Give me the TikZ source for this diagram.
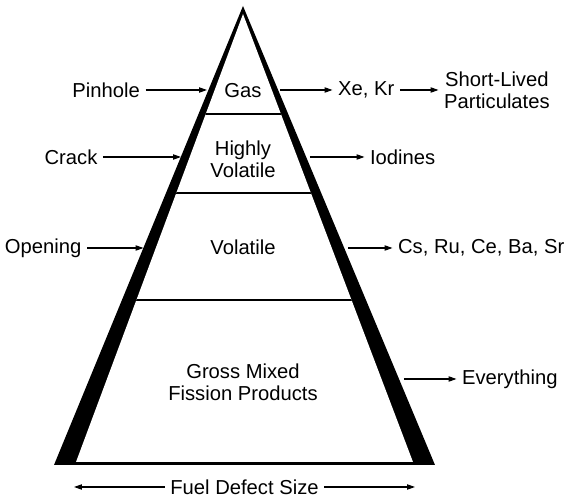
\documentclass[tikz,border=0pt]{standalone}
\usepackage{fontspec}
\setmainfont{Liberation Sans}
\usetikzlibrary{arrows.meta}
\begin{document}
\begin{tikzpicture}[
	lbl/.style={inner sep=3pt, font=\fontsize{11.5}{12.5}\selectfont, align=center},
	arr/.style={line width=0.6pt, -{Triangle[length=4.5pt, width=3pt]}},
	layer/.style={line width=1.7pt}
]
	\useasboundingbox (0, 0) rectangle (11.36, 9.92);
	% pyramid: black outer triangle, white inside, the base is what is left at the bottom
	\fill (4.86, 9.80) -- (1.08, 0.62) -- (8.70, 0.62) -- cycle;
	\fill[white] (4.86, 9.64) -- (1.52, 0.68) -- (8.26, 0.68) -- cycle;
	\begin{scope}
		\clip (4.86, 9.64) -- (1.52, 0.68) -- (8.26, 0.68) -- cycle;
		\draw[layer] (1, 7.64) -- (9, 7.64);
		\draw[layer] (1, 6.06) -- (9, 6.06);
		\draw[line width=1.1pt] (1, 3.92) -- (9, 3.92);
	\end{scope}
	\node[lbl] (gas) at (4.86, 8.10) {Gas};
	\node[lbl] (hivol) at (4.86, 6.74) {Highly\\Volatile};
	\node[lbl] (vol) at (4.86, 4.98) {Volatile};
	\node[lbl] (gross) at (4.86, 2.28) {Gross Mixed\\Fission Products};
	% defects on the left
	\node[lbl, anchor=east] (pinhole) at (2.91, 8.12) {Pinhole};
	\node[lbl, anchor=east] (crack) at (2.06, 6.78) {Crack};
	\node[lbl, anchor=east] (opening) at (1.74, 4.96) {Opening};
	\coordinate (pinholeend) at (4.14, 8.12);
	\coordinate (crackend) at (3.62, 6.78);
	\coordinate (openingend) at (2.87, 4.96);
	\draw[arr] (pinhole) -- (pinholeend);
	\draw[arr] (crack) -- (crackend);
	\draw[arr] (opening) -- (openingend);
	% releases on the right
	\node[lbl, anchor=west] (xekr) at (6.65, 8.12) {Xe, Kr};
	\node[lbl, anchor=west] (shortlived) at (8.77, 8.12) {Short-Lived\\Particulates};
	\node[lbl, anchor=west] (iodines) at (7.29, 6.78) {Iodines};
	\node[lbl, anchor=west] (csru) at (7.85, 4.96) {Cs, Ru, Ce, Ba, Sr};
	\node[lbl, anchor=west] (everything) at (9.13, 2.34) {Everything};
	\coordinate (gasout) at (5.60, 8.12);
	\coordinate (hivolout) at (6.20, 6.78);
	\coordinate (volout) at (6.96, 4.96);
	\coordinate (grossout) at (8.08, 2.34);
	\draw[arr] (gasout) -- (xekr);
	\draw[arr] (xekr) -- (shortlived);
	\draw[arr] (hivolout) -- (iodines);
	\draw[arr] (volout) -- (csru);
	\draw[arr] (grossout) -- (everything);
	% size axis
	\node[lbl] (defect) at (4.89, 0.18) {Fuel Defect Size};
	\coordinate (smallend) at (1.48, 0.18);
	\coordinate (largeend) at (8.30, 0.18);
	\draw[arr] (defect) -- (smallend);
	\draw[arr] (defect) -- (largeend);
\end{tikzpicture}
\end{document}
